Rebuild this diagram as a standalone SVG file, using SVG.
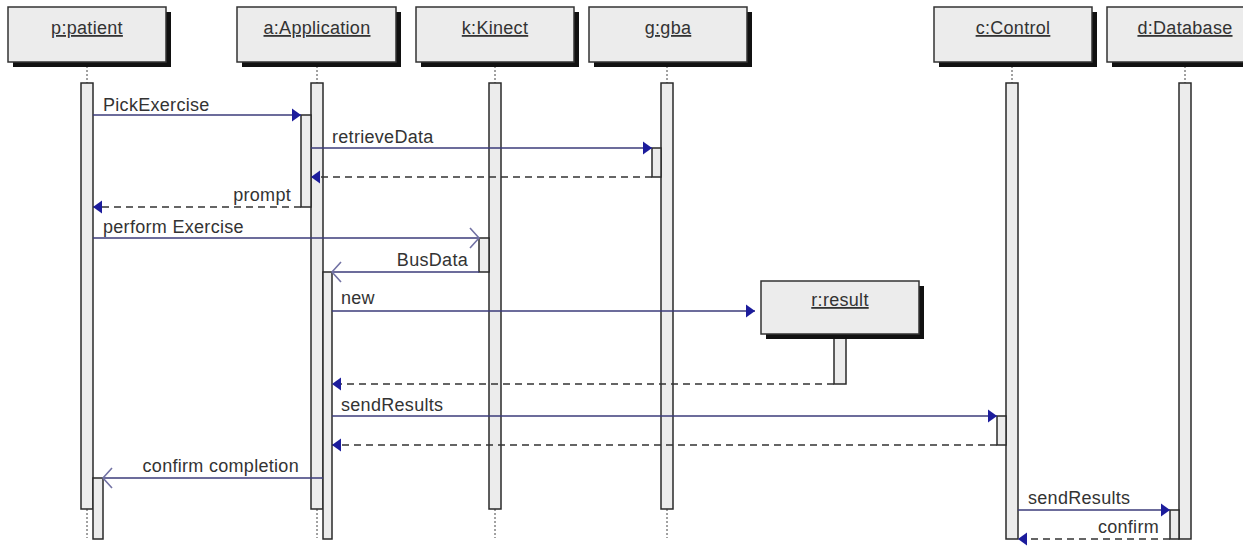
<svg xmlns="http://www.w3.org/2000/svg" width="1243" height="548" viewBox="0 0 1243 548">
<style>
.box{fill:#ececec;stroke:#333;stroke-width:1.5}
.shadow{fill:#111}
.bar{fill:#ececec;stroke:#2a2a2a;stroke-width:1.5}
.life{stroke:#444;stroke-width:1;stroke-dasharray:2,2}
.msg{stroke:#3b3b7a;stroke-width:1.3;fill:none}
.ret{stroke:#333;stroke-width:1.3;stroke-dasharray:7,5;fill:none}
.solid{marker-end:url(#fa)}
.open{marker-end:url(#oa)}
text{font-family:"Liberation Sans",Arial,sans-serif;font-size:18px;letter-spacing:0.3px;fill:#333}
.hdr text{text-anchor:middle;text-decoration:underline}
.end{text-anchor:end}
</style>
<defs>
<marker id="fa" markerUnits="userSpaceOnUse" markerWidth="10" markerHeight="14" refX="9" refY="6.5" orient="auto" overflow="visible">
<path d="M0,0 L9,6.5 L0,13 z" fill="#1c1c9c"/>
</marker>
<marker id="oa" markerUnits="userSpaceOnUse" markerWidth="12" markerHeight="22" refX="9" refY="10" orient="auto" overflow="visible">
<path d="M0,0 L9,10 L0,20" fill="none" stroke="#7272a4" stroke-width="1.6"/>
</marker>
</defs>

<g id="lifelines">
<line class="life" x1="87" y1="62" x2="87" y2="83"/>
<line class="life" x1="317" y1="62" x2="317" y2="83"/>
<line class="life" x1="495" y1="62" x2="495" y2="83"/>
<line class="life" x1="667" y1="62" x2="667" y2="83"/>
<line class="life" x1="1012" y1="62" x2="1012" y2="83"/>
<line class="life" x1="1185" y1="62" x2="1185" y2="83"/>
<line class="life" x1="87" y1="509" x2="87" y2="538"/>
<line class="life" x1="317" y1="509" x2="317" y2="538"/>
<line class="life" x1="495" y1="509" x2="495" y2="538"/>
<line class="life" x1="667" y1="509" x2="667" y2="538"/>
</g>

<g id="p" class="hdr">
<rect class="shadow" x="13" y="12" width="158" height="55"/>
<rect class="box" x="8" y="7" width="158" height="55"/>
<text x="87" y="34">p:patient</text>
<rect class="bar" x="81" y="83" width="12" height="426"/>
<rect class="bar" x="93" y="478" width="10" height="61"/>
</g>
<g id="a" class="hdr">
<rect class="shadow" x="242" y="12" width="159" height="55"/>
<rect class="box" x="237" y="7" width="159" height="55"/>
<text x="317" y="34">a:Application</text>
<rect class="bar" x="311" y="83" width="12" height="426"/>
<rect class="bar" x="301" y="115" width="10" height="92"/>
<rect class="bar" x="323" y="272" width="9" height="267"/>
</g>
<g id="k" class="hdr">
<rect class="shadow" x="421" y="12" width="158" height="55"/>
<rect class="box" x="416" y="7" width="158" height="55"/>
<text x="495" y="34">k:Kinect</text>
<rect class="bar" x="489" y="83" width="12" height="426"/>
<rect class="bar" x="479" y="238" width="10" height="34"/>
</g>
<g id="g" class="hdr">
<rect class="shadow" x="594" y="12" width="158" height="55"/>
<rect class="box" x="589" y="7" width="158" height="55"/>
<text x="668" y="34">g:gba</text>
<rect class="bar" x="661" y="83" width="12" height="426"/>
<rect class="bar" x="652" y="148" width="9" height="29"/>
</g>
<g id="c" class="hdr">
<rect class="shadow" x="939" y="12" width="158" height="55"/>
<rect class="box" x="934" y="7" width="158" height="55"/>
<text x="1013" y="34">c:Control</text>
<rect class="bar" x="1006" y="83" width="12" height="456"/>
<rect class="bar" x="997" y="416" width="9" height="29"/>
</g>
<g id="d" class="hdr">
<rect class="shadow" x="1112" y="12" width="158" height="55"/>
<rect class="box" x="1107" y="7" width="158" height="55"/>
<text x="1185" y="34">d:Database</text>
<rect class="bar" x="1179" y="83" width="12" height="456"/>
<rect class="bar" x="1170" y="510" width="9" height="29"/>
</g>
<g id="r" class="hdr">
<rect class="bar" x="834" y="334" width="12" height="50"/>
<rect class="shadow" x="766" y="286" width="158" height="53"/>
<rect class="box" x="761" y="281" width="158" height="53"/>
<text x="840" y="306">r:result</text>
</g>

<g id="connectors">
<line class="msg solid" x1="93" y1="115" x2="301" y2="115"/>
<text x="103" y="111">PickExercise</text>
<line class="msg solid" x1="311" y1="148" x2="652" y2="148"/>
<text x="332" y="143">retrieveData</text>
<line class="ret solid" x1="652" y1="177" x2="311" y2="177"/>
<line class="ret solid" x1="301" y1="207" x2="93" y2="207"/>
<text class="end" x="291" y="201">prompt</text>
<line class="msg open" x1="93" y1="238" x2="479" y2="238"/>
<text x="103" y="233">perform Exercise</text>
<line class="msg open" x1="479" y1="272" x2="332" y2="272"/>
<text class="end" x="468" y="266">BusData</text>
<line class="msg solid" x1="332" y1="311" x2="755" y2="311"/>
<text x="341" y="304">new</text>
<line class="ret solid" x1="834" y1="384" x2="332" y2="384"/>
<line class="msg solid" x1="332" y1="416" x2="997" y2="416"/>
<text x="341" y="411">sendResults</text>
<line class="ret solid" x1="997" y1="445" x2="332" y2="445"/>
<line class="msg open" x1="323" y1="478" x2="103" y2="478"/>
<text class="end" x="299" y="472">confirm completion</text>
<line class="msg solid" x1="1018" y1="510" x2="1170" y2="510"/>
<text x="1028" y="504">sendResults</text>
<line class="ret solid" x1="1170" y1="539" x2="1018" y2="539"/>
<text class="end" x="1159" y="533">confirm</text>
</g>
</svg>
